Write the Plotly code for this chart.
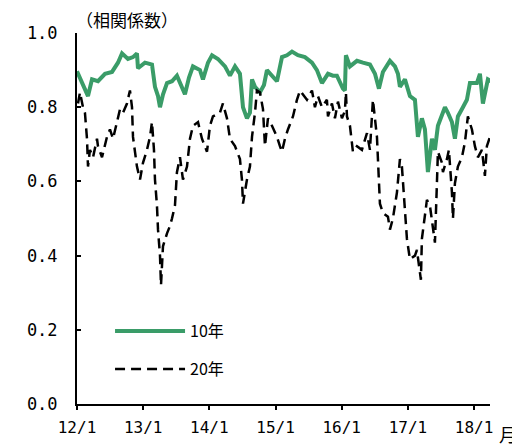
import plotly.graph_objects as go

# time in decimal years
t10 = [2012.00, 2012.045, 2012.12, 2012.166, 2012.227, 2012.317, 2012.423, 2012.529, 2012.619, 2012.68,
       2012.77, 2012.846, 2012.906, 2012.921, 2013.027, 2013.133, 2013.178, 2013.224, 2013.254, 2013.30,
       2013.36, 2013.435, 2013.51, 2013.586, 2013.631, 2013.692, 2013.752, 2013.858, 2013.903, 2013.979,
       2014.04, 2014.13, 2014.236, 2014.311, 2014.387, 2014.462, 2014.508, 2014.568, 2014.613, 2014.644,
       2014.689, 2014.764, 2014.825, 2014.87, 2014.946, 2015.021, 2015.097, 2015.172, 2015.248, 2015.338,
       2015.444, 2015.55, 2015.625, 2015.701, 2015.792, 2015.867, 2015.927, 2016.018, 2016.048, 2016.063,
       2016.124, 2016.23, 2016.32, 2016.426, 2016.502, 2016.562, 2016.622, 2016.728, 2016.804, 2016.849,
       2016.879, 2016.955, 2017.03, 2017.106, 2017.151, 2017.211, 2017.257, 2017.302, 2017.363, 2017.408,
       2017.453, 2017.514, 2017.559, 2017.604, 2017.665, 2017.71, 2017.755, 2017.831, 2017.891, 2017.937,
       2018.042, 2018.088, 2018.133, 2018.208, 2018.254]
v10 = [0.897, 0.88, 0.85, 0.83, 0.875, 0.87, 0.89, 0.895, 0.92, 0.945,
       0.93, 0.935, 0.945, 0.905, 0.92, 0.915, 0.855, 0.83, 0.80, 0.835,
       0.865, 0.87, 0.885, 0.855, 0.835, 0.88, 0.91, 0.90, 0.875, 0.92,
       0.94, 0.93, 0.91, 0.885, 0.91, 0.89, 0.80, 0.77, 0.785, 0.875,
       0.855, 0.84, 0.86, 0.90, 0.885, 0.87, 0.935, 0.94, 0.95, 0.94,
       0.935, 0.92, 0.90, 0.865, 0.89, 0.885, 0.885, 0.85, 0.845, 0.94,
       0.91, 0.925, 0.92, 0.915, 0.89, 0.85, 0.895, 0.925, 0.91, 0.89,
       0.855, 0.875, 0.83, 0.82, 0.72, 0.77, 0.74, 0.625, 0.715, 0.685,
       0.75, 0.775, 0.80, 0.785, 0.76, 0.715, 0.775, 0.80, 0.82, 0.865,
       0.865, 0.89, 0.81, 0.875, 0.87]

t20 = [2012.015, 2012.045, 2012.09, 2012.12, 2012.151, 2012.166, 2012.196, 2012.242, 2012.302, 2012.317,
       2012.378, 2012.453, 2012.498, 2012.544, 2012.604, 2012.65, 2012.695, 2012.755, 2012.80, 2012.831,
       2012.846, 2012.906, 2012.952, 2012.997, 2013.057, 2013.103, 2013.133, 2013.163, 2013.178, 2013.208,
       2013.224, 2013.254, 2013.269, 2013.299, 2013.36, 2013.405, 2013.435, 2013.48, 2013.51, 2013.556,
       2013.601, 2013.662, 2013.707, 2013.752, 2013.828, 2013.888, 2013.964, 2014.009, 2014.054, 2014.16,
       2014.205, 2014.266, 2014.311, 2014.387, 2014.462, 2014.492, 2014.508, 2014.568, 2014.613, 2014.644,
       2014.689, 2014.719, 2014.764, 2014.81, 2014.84, 2014.885, 2014.946, 2015.021, 2015.066, 2015.097,
       2015.142, 2015.187, 2015.263, 2015.323, 2015.369, 2015.414, 2015.474, 2015.55, 2015.595, 2015.64,
       2015.701, 2015.776, 2015.792, 2015.852, 2015.897, 2015.943, 2016.003, 2016.048, 2016.063, 2016.079,
       2016.124, 2016.169, 2016.23, 2016.305, 2016.381, 2016.426, 2016.456, 2016.471, 2016.532, 2016.547,
       2016.577, 2016.622, 2016.698, 2016.728, 2016.773, 2016.834, 2016.879, 2016.909, 2016.955, 2016.985,
       2017.03, 2017.106, 2017.136, 2017.166, 2017.196, 2017.211, 2017.257, 2017.287, 2017.332, 2017.378,
       2017.408, 2017.438, 2017.453, 2017.514, 2017.529, 2017.589, 2017.619, 2017.665, 2017.68, 2017.71,
       2017.755, 2017.816, 2017.861, 2017.906, 2017.967, 2018.012, 2018.057, 2018.118, 2018.163, 2018.193,
       2018.239]
v20 = [0.81, 0.84, 0.80, 0.785, 0.715, 0.64, 0.685, 0.665, 0.715, 0.695,
       0.665, 0.72, 0.74, 0.715, 0.76, 0.795, 0.785, 0.81, 0.845, 0.80,
       0.72, 0.64, 0.605, 0.65, 0.685, 0.72, 0.76, 0.685, 0.605, 0.535,
       0.47, 0.40, 0.32, 0.425, 0.46, 0.48, 0.50, 0.535, 0.625, 0.665,
       0.605, 0.64, 0.715, 0.75, 0.76, 0.715, 0.68, 0.75, 0.775, 0.785,
       0.81, 0.77, 0.715, 0.695, 0.66, 0.605, 0.54, 0.605, 0.64, 0.72,
       0.785, 0.845, 0.84, 0.795, 0.695, 0.77, 0.75, 0.72, 0.695, 0.68,
       0.715, 0.74, 0.775, 0.82, 0.845, 0.835, 0.82, 0.845, 0.80, 0.83,
       0.80, 0.82, 0.775, 0.81, 0.77, 0.815, 0.77, 0.79, 0.84, 0.775,
       0.75, 0.68, 0.695, 0.685, 0.73, 0.685, 0.77, 0.82, 0.72, 0.665,
       0.54, 0.515, 0.505, 0.47, 0.50, 0.57, 0.66, 0.64, 0.535, 0.445,
       0.39, 0.40, 0.415, 0.37, 0.335, 0.445, 0.515, 0.55, 0.535, 0.48,
       0.435, 0.595, 0.68, 0.65, 0.625, 0.66, 0.685, 0.57, 0.50, 0.595,
       0.64, 0.665, 0.705, 0.775, 0.74, 0.695, 0.665, 0.685, 0.615, 0.695,
       0.72]

x_tickvals = [2012, 2013, 2014, 2015, 2016, 2017, 2018]
x_ticktext = ["12/1", "13/1", "14/1", "15/1", "16/1", "17/1", "18/1"]
y_tickvals = [0.0, 0.2, 0.4, 0.6, 0.8, 1.0]
y_ticktext = ["0.0", "0.2", "0.4", "0.6", "0.8", "1.0"]

FONT = "Noto Sans CJK JP"
MONO = "DejaVu Sans Mono"
GREEN = "#3a9c68"

fig = go.Figure()
fig.add_trace(go.Scatter(x=t10, y=v10, mode="lines", name="10年", legendgroup="a",
                         line=dict(color=GREEN, width=4)))
fig.add_trace(go.Scatter(x=t20, y=v20, mode="lines", name="20年", legendgroup="b",
                         line=dict(color="black", width=2.5, dash="10px,6px")))

# page body adds an 8px offset; figure sized to compensate
fig.update_layout(
    width=512, height=438,
    margin=dict(l=69, r=30, t=25, b=41.5, autoexpand=False),
    paper_bgcolor="white", plot_bgcolor="white",
    font=dict(family=FONT, size=16, color="black"),
    showlegend=True,
    legend=dict(x=0.08, y=0.145, xanchor="left", yanchor="middle",
                bgcolor="rgba(0,0,0,0)", font=dict(size=16, family=FONT),
                tracegroupgap=14, itemwidth=70),
    xaxis=dict(range=[2012, 2018.24], tickmode="array", tickvals=x_tickvals, ticktext=x_ticktext,
               showgrid=False, zeroline=False, showline=True, linecolor="black", linewidth=2,
               ticks="outside", ticklen=4, tickwidth=1.5, tickcolor="black", automargin=False,
               tickfont=dict(size=16, family=MONO), ticklabelstandoff=4),
    yaxis=dict(range=[0, 1.0], tickmode="array", tickvals=y_tickvals, ticktext=y_ticktext,
               showgrid=False, zeroline=False, showline=True, linecolor="black", linewidth=2,
               ticks="inside", ticklen=4, tickwidth=1.5, tickcolor="black", automargin=False,
               tickfont=dict(size=17, family=MONO), ticklabelstandoff=14),
    annotations=[
        dict(text="（相関係数）", xref="paper", yref="paper", x=0.0, y=1.0, xshift=-3, yshift=14,
             xanchor="left", yanchor="middle", showarrow=False, font=dict(size=17, family=FONT)),
        dict(text="月", xref="paper", yref="paper", x=1.0, y=0, yshift=-30, xshift=7,
             xanchor="left", yanchor="middle", showarrow=False, font=dict(size=18, family=FONT)),
    ],
)

fig.write_html("out.html")
